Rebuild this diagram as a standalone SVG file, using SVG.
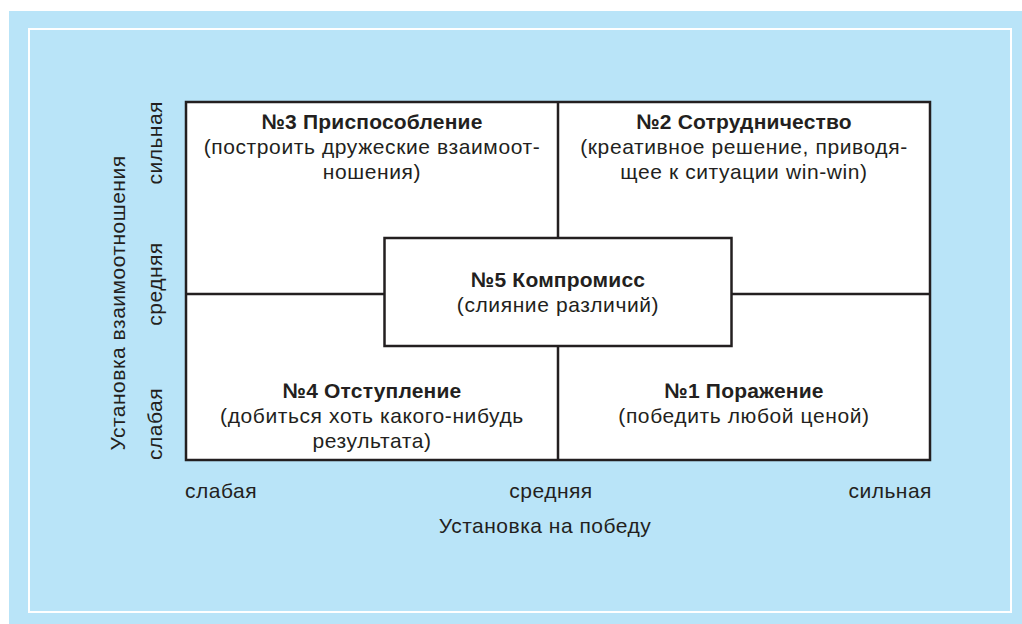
<svg xmlns="http://www.w3.org/2000/svg" width="1022" height="624" viewBox="0 0 1022 624">
<style>
text{font-family:"Liberation Sans","Arial",sans-serif;fill:#231f20}
.t{font-weight:bold;font-size:21px;text-anchor:middle;letter-spacing:0.2px}
.b{font-size:21px;text-anchor:middle;letter-spacing:0.6px}
.ax{font-size:21px;letter-spacing:0.5px}
.box{fill:#ffffff;stroke:#231f20;stroke-width:2.5}
.ln{stroke:#231f20;stroke-width:2.5;fill:none}
</style>
<rect x="9" y="11" width="1013" height="613" fill="#b9e4f8"/>
<rect x="29" y="29" width="982" height="583" fill="none" stroke="#ffffff" stroke-width="2"/>
<g id="grid">
<rect class="box" x="186" y="102" width="744" height="358"/>
</g>
<g id="connectors">
<line class="ln" x1="558" y1="102" x2="558" y2="460"/>
<line class="ln" x1="186" y1="294" x2="930" y2="294"/>
</g>
<g id="n3">
<text class="t" x="372" y="129">№3 Приспособление</text>
<text class="b" x="372" y="154">(построить дружеские взаимоот-</text>
<text class="b" x="372" y="179">ношения)</text>
</g>
<g id="n2">
<text class="t" x="744" y="129">№2 Сотрудничество</text>
<text class="b" x="744" y="154">(креативное решение, приводя-</text>
<text class="b" x="744" y="179">щее к ситуации win-win)</text>
</g>
<g id="n5">
<rect class="box" x="384.5" y="238" width="347" height="108"/>
<text class="t" x="558" y="287">№5 Компромисс</text>
<text class="b" x="558" y="312">(слияние различий)</text>
</g>
<g id="n4">
<text class="t" x="372" y="398">№4 Отступление</text>
<text class="b" x="372" y="423">(добиться хоть какого-нибудь</text>
<text class="b" x="372" y="448">результата)</text>
</g>
<g id="n1">
<text class="t" x="744" y="398">№1 Поражение</text>
<text class="b" x="744" y="423">(победить любой ценой)</text>
</g>
<g id="axes">
<text class="ax" x="185" y="498">слабая</text>
<text class="ax" x="551" y="498" text-anchor="middle">средняя</text>
<text class="ax" x="932" y="498" text-anchor="end">сильная</text>
<text class="ax" x="545" y="533" text-anchor="middle">Установка на победу</text>
<text class="ax" transform="translate(125,303) rotate(-90)" text-anchor="middle">Установка взаимоотношения</text>
<text class="ax" transform="translate(162,460) rotate(-90)">слабая</text>
<text class="ax" transform="translate(162,284) rotate(-90)" text-anchor="middle">средняя</text>
<text class="ax" transform="translate(162,101) rotate(-90)" text-anchor="end">сильная</text>
</g>
</svg>
